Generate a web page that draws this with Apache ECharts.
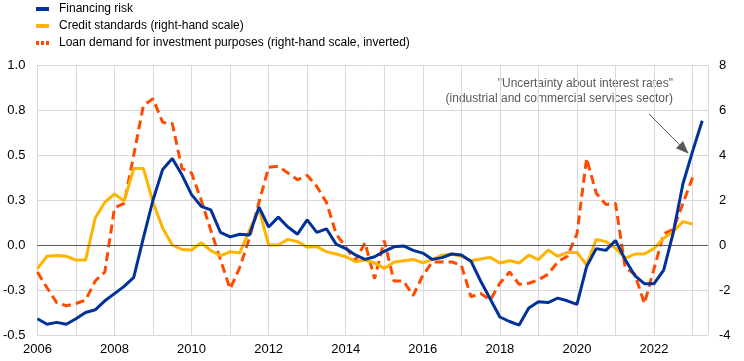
<!DOCTYPE html>
<html>
<head>
<meta charset="utf-8">
<script src="https://cdn.jsdelivr.net/npm/echarts@6/dist/echarts.min.js"></script>
<style>
html,body{margin:0;padding:0;background:#fff;}
#chart{width:744px;height:361px;}
</style>
</head>
<body>
<div id="chart"></div>
<script>
// Quarterly observations, 2006 Q1 onwards
const startYear = 2006;
const seriesNames = ['Financing risk', 'Credit standards (right-hand scale)', 'Loan demand for investment purposes (right-hand scale, inverted)'];

// Financing risk (left-hand scale)
const financingRisk = [
  -0.41, -0.44, -0.43, -0.44, -0.41, -0.375, -0.36, -0.31,
  -0.27, -0.23, -0.18, 0.04, 0.25, 0.42, 0.48, 0.39,
  0.28, 0.215, 0.195, 0.07, 0.045, 0.06, 0.055, 0.21,
  0.10, 0.155, 0.10, 0.06, 0.14, 0.07, 0.09, 0.005,
  -0.02, -0.055, -0.08, -0.065, -0.035, -0.01, -0.005, -0.03,
  -0.045, -0.08, -0.07, -0.05, -0.055, -0.09, -0.2, -0.30,
  -0.40, -0.425, -0.445, -0.35, -0.315, -0.32, -0.295, -0.31,
  -0.33, -0.12, -0.02, -0.03, 0.025, -0.08, -0.17, -0.215,
  -0.215, -0.14, 0.07, 0.34, 0.52, 0.69
];

// Credit standards (right-hand scale)
const creditStandards = [
  -1.05, -0.5, -0.47, -0.5, -0.67, -0.67, 1.2, 1.9,
  2.27, 1.95, 3.4, 3.4, 1.9, 0.75, 0.0, -0.2,
  -0.22, 0.1, -0.25, -0.48, -0.3, -0.35, 0.65, 1.6,
  0.0, 0.0, 0.25, 0.15, -0.1, -0.07, -0.3, -0.4,
  -0.52, -0.74, -0.67, -0.8, -1.04, -0.77, -0.7, -0.64,
  -0.79, -0.65, -0.45, -0.4, -0.5, -0.7, -0.62, -0.55,
  -0.8, -0.7, -0.8, -0.45, -0.65, -0.22, -0.5, -0.33,
  -0.33, -0.89, 0.25, 0.15, -0.15, -0.59, -0.4, -0.4,
  -0.15, 0.3, 0.6, 1.04, 0.93, null
];

// Loan demand for investment purposes (net percentages, plotted inverted on right-hand scale)
const loanDemand = [
  1.2, 1.9, 2.56, 2.7, 2.6, 2.45, 1.6, 1.2,
  -1.65, -1.85, -4.0, -6.2, -6.5, -5.45, -5.4, -3.4,
  -3.2, -2.0, -0.65, 0.65, 1.95, 1.0, -0.3, -1.9,
  -3.45, -3.5, -3.2, -2.9, -3.1, -2.6, -1.9, -0.5,
  0.1, 0.7, -0.1, 1.5, -0.2, 1.6, 1.6, 2.25,
  1.35, 0.75, 0.75, 0.75, 0.9, 2.3, 2.15, 2.45,
  1.7, 1.2, 1.75, 1.7, 1.55, 1.3, 0.75, 0.5,
  -0.5, -3.85, -2.3, -1.8, -1.85, 1.0, 1.3, 2.6,
  1.05, -0.5, -0.7, -1.85, -3.0, null
];

const leftTicks = { min: -0.5, max: 1.0, interval: 0.25 };
const rightTicks = { min: -4, max: 8, interval: 2 };
const xRange = { min: 2006, max: 2023.4 };

const annotationLines = ['"Uncertainty about interest rates"', '(industrial and commercial services sector)'];
const arrowFrom = [2021.87, 0.728];
const arrowTo = [2022.78, 0.532];

const t = i => startYear + i / 4;
const pairs = (arr, f) => arr.map((v, i) => [t(i), v == null ? null : f(v)]);

const FONT = 'Liberation Sans, Arial, sans-serif';
const chart = echarts.init(document.getElementById('chart'), null, { renderer: 'canvas' });

chart.setOption({
  animation: false,
  textStyle: { fontFamily: FONT },
  legend: {
    orient: 'vertical',
    left: 36,
    top: 3,
    itemWidth: 13,
    itemHeight: 4,
    itemGap: 5,
    padding: 0,
    textStyle: { fontSize: 12, color: '#000', lineHeight: 12, padding: [0, 0, 0, 5], fontFamily: FONT },
    data: [
      { name: seriesNames[0], icon: 'rect' },
      { name: seriesNames[1], icon: 'rect' },
      { name: seriesNames[2], icon: 'path://M0,0h3v4h-3z M5,0h3v4h-3z M10,0h3v4h-3z' }
    ]
  },
  grid: { left: 37, right: 36, top: 65, bottom: 26, containLabel: false },
  xAxis: {
    type: 'value',
    min: xRange.min,
    max: xRange.max,
    interval: 1,
    axisLine: { show: false, onZero: false },
    axisTick: { show: false },
    splitLine: { show: true, lineStyle: { color: '#d9d9d9', width: 1 } },
    axisLabel: {
      fontSize: 13, color: '#000', margin: 8, fontFamily: FONT,
      showMaxLabel: false,
      formatter: v => {
        const r = Math.round(v);
        return (Math.abs(v - r) < 1e-6 && r % 2 === 0) ? String(r) : '';
      }
    }
  },
  yAxis: [
    {
      type: 'value',
      min: leftTicks.min, max: leftTicks.max, interval: leftTicks.interval,
      axisLine: { show: false },
      axisTick: { show: false },
      splitLine: { show: true, lineStyle: { color: '#d9d9d9', width: 1 } },
      axisLabel: { fontSize: 13, color: '#000', margin: 12, fontFamily: FONT, formatter: v => v.toFixed(1) }
    },
    {
      type: 'value',
      min: rightTicks.min, max: rightTicks.max, interval: rightTicks.interval,
      axisLine: { show: false },
      axisTick: { show: false },
      splitLine: { show: false },
      axisLabel: { fontSize: 13, color: '#000', margin: 11, fontFamily: FONT }
    }
  ],
  series: [
    {
      name: seriesNames[2],
      type: 'line',
      yAxisIndex: 1,
      symbol: 'none',
      z: 3,
      lineStyle: { color: '#ff4b00', width: 3, type: [9, 5] },
      itemStyle: { color: '#ff4b00' },
      data: pairs(loanDemand, v => -v)
    },
    {
      name: seriesNames[1],
      type: 'line',
      yAxisIndex: 1,
      symbol: 'none',
      z: 4,
      lineStyle: { color: '#ffb400', width: 3 },
      itemStyle: { color: '#ffb400' },
      data: pairs(creditStandards, v => v)
    },
    {
      name: seriesNames[0],
      type: 'line',
      yAxisIndex: 0,
      symbol: 'none',
      z: 5,
      lineStyle: { color: '#003299', width: 3 },
      itemStyle: { color: '#003299' },
      data: pairs(financingRisk, v => v),
      markLine: {
        silent: true,
        animation: false,
        data: [
          [{ coord: arrowFrom, symbol: 'none' }, { coord: arrowTo, symbol: 'triangle', symbolSize: [10, 13] }],
          [{ coord: [xRange.min, 0], symbol: 'none' }, { coord: [xRange.max, 0], symbol: 'none' }]
        ],
        lineStyle: { color: '#595959', width: 1, type: 'solid' },
        label: { show: false }
      }
    }
  ],
  graphic: [
    {
      type: 'text',
      x: 673, y: 76,
      style: {
        text: annotationLines.join('\n'),
        align: 'right',
        fill: '#595959',
        font: '12px ' + FONT,
        lineHeight: 15
      }
    }
  ]
});
</script>
</body>
</html>
